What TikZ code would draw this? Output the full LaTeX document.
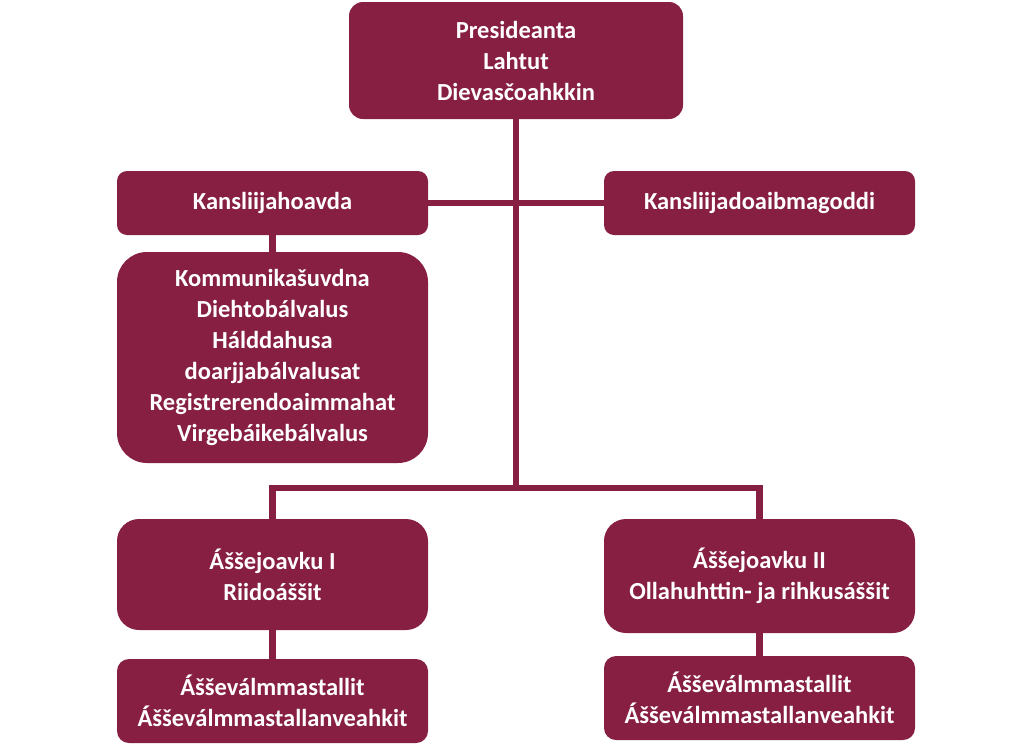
\documentclass[tikz,border=0pt]{standalone}
\usepackage{fontspec}
\setmainfont{Carlito}
\definecolor{maroon}{HTML}{861F41}
\begin{document}
\begin{tikzpicture}[x=1pt,y=-1pt,
  box/.style={fill=maroon, draw=none, text=white, rounded corners=14pt,
    minimum width=311pt, align=center, inner sep=0pt,
    font=\fontsize{24.5}{31}\selectfont\bfseries},
  conn/.style={draw=maroon, line width=6.5pt}]
\useasboundingbox (0,0) rectangle (1024,747);
\node[box, minimum width=334pt, minimum height=117pt] (top) at (516,60.5) {Presideanta\\Lahtut\\Dievasčoahkkin};
\node[box, minimum height=64pt, rounded corners=10pt] (kh) at (272.5,203) {Kansliijahoavda};
\node[box, minimum height=64pt, rounded corners=10pt] (kd) at (759.5,203) {Kansliijadoaibmagoddi};
\node[box, minimum height=211pt, rounded corners=30pt] (big) at (272.5,357.5) {Kommunikašuvdna\\Diehtobálvalus\\Hálddahusa\\doarjjabálvalusat\\Registrerendoaimmahat\\Virgebáikebálvalus};
\node[box, minimum height=111pt, rounded corners=22pt] (g1) at (272.5,574.5) {Áššejoavku I\\Riidoáššit};
\node[box, minimum height=114pt, rounded corners=22pt] (g2) at (759.5,576) {Áššejoavku II\\Ollahuhttin- ja rihkusáššit};
\node[box, minimum height=84pt, rounded corners=12pt] (b1) at (272.5,701) {Ášševálmmastallit\\Ášševálmmastallanveahkit};
\node[box, minimum height=84pt, rounded corners=12pt] (b2) at (759.5,698) {Ášševálmmastallit\\Ášševálmmastallanveahkit};
\coordinate (bus) at (516,488);
\draw[conn] (top.south) -- (bus);
\draw[conn] (kh.east) -- (kd.west);
\draw[conn] (bus) -| (g1.north);
\draw[conn] (bus) -| (g2.north);
\draw[conn] (kh.south) -- (big.north);
\draw[conn] (g1.south) -- (b1.north);
\draw[conn] (g2.south) -- (b2.north);
\end{tikzpicture}
\end{document}
